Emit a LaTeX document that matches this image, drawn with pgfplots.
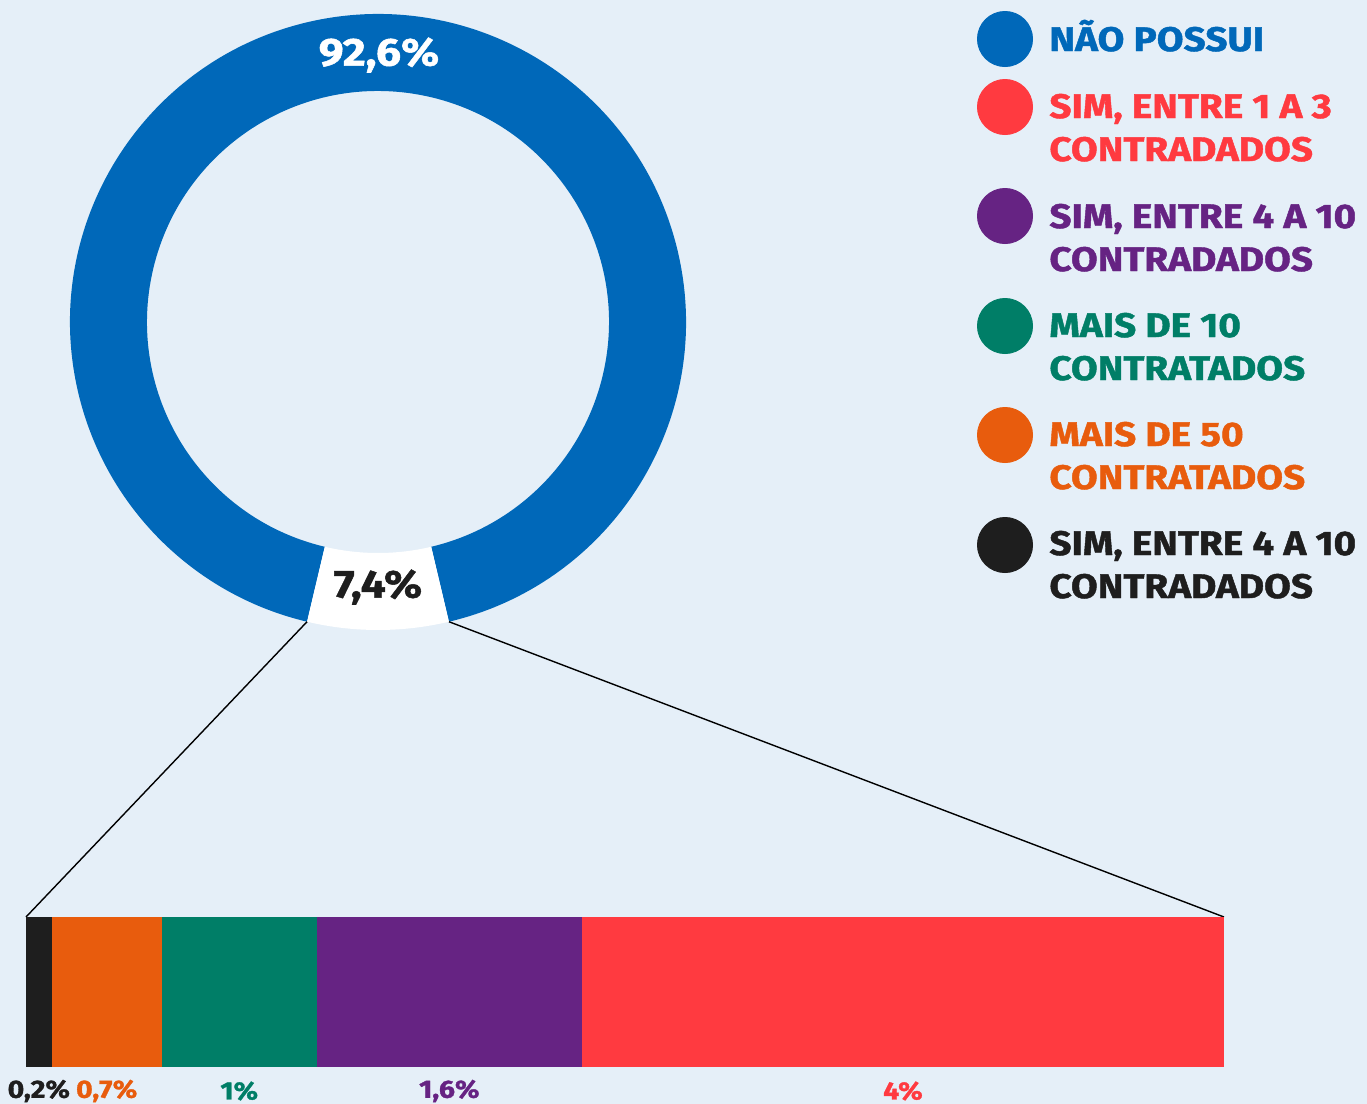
\documentclass[border=0pt]{standalone}
\usepackage{fontspec}
\setmainfont{Fira Sans}[BoldFeatures={FakeBold=1.3, FakeStretch=1.14}]
\usepackage{pgfplots}
\pgfplotsset{compat=1.18}
\definecolor{bgc}{HTML}{E5EFF8}
\definecolor{cblue}{HTML}{0068B9}
\definecolor{cred}{HTML}{FF3A40}
\definecolor{cpurple}{HTML}{662383}
\definecolor{cgreen}{HTML}{007E67}
\definecolor{corange}{HTML}{E85C0D}
\definecolor{cblack}{HTML}{1E1E1E}
\newcommand\legfont{\bfseries\fontsize{17}{21}\selectfont}
\newcommand\lblfont{\bfseries\fontsize{12.5}{14}\selectfont}
\newcommand\donutfont{\bfseries\fontsize{19.5}{22}\selectfont}
% donut data (percent)
\def\pNao{92.6}
\def\pSim{7.4}
\pgfmathsetmacro\halfang{\pSim*3.6/2}
\pgfmathsetmacro\aS{270-\halfang}
\pgfmathsetmacro\aE{270+\halfang}
\pgfmathsetmacro\aSS{\aS+360}
\begin{document}
\begin{tikzpicture}
\begin{axis}[x=0.5pt, y=0.5pt, xmin=0, xmax=1367, ymin=0, ymax=1104,
  y dir=reverse, hide axis, clip=false]
\fill[bgc] (rel axis cs:0,0) rectangle (rel axis cs:1,1);
% blue ring part
\fill[cblue] ([shift={(\aE:154pt)}]axis cs:378,322) arc[start angle=\aE, end angle=\aSS, radius=154pt]
  -- ([shift={(\aSS:115.5pt)}]axis cs:378,322) arc[start angle=\aSS, end angle=\aE, radius=115.5pt] -- cycle;
% white slice
\fill[white] ([shift={(\aS:154pt)}]axis cs:378,322) arc[start angle=\aS, end angle=\aE, radius=154pt]
  -- ([shift={(\aE:115.5pt)}]axis cs:378,322) arc[start angle=\aE, end angle=\aS, radius=115.5pt] -- cycle;
\node[text=white, font=\donutfont] at (axis cs:379,55) {92,6\%};
\node[text=cblack, font=\donutfont] at (axis cs:378,587) {7,4\%};
% connector lines
\draw[black, line width=0.7pt] ([shift={(\aS:154pt)}]axis cs:378,322) -- (axis cs:26,917);
\draw[black, line width=0.7pt] ([shift={(\aE:154pt)}]axis cs:378,322) -- (axis cs:1224,917);
% legend
\addplot[cblue, only marks, mark=*, mark size=13.8pt] coordinates {(1005,39)};
\addplot[cred, only marks, mark=*, mark size=13.8pt] coordinates {(1005,107)};
\addplot[cpurple, only marks, mark=*, mark size=13.8pt] coordinates {(1005,216)};
\addplot[cgreen, only marks, mark=*, mark size=13.8pt] coordinates {(1005,326)};
\addplot[corange, only marks, mark=*, mark size=13.8pt] coordinates {(1005,435)};
\addplot[cblack, only marks, mark=*, mark size=13.8pt] coordinates {(1005,545)};
\node[anchor=base west, text=cblue, font=\legfont, inner sep=0pt] at (axis cs:1049,51) {NÃO POSSUI};
\node[anchor=base west, text=cred, font=\legfont, inner sep=0pt] at (axis cs:1049,118) {SIM, ENTRE 1 A 3};
\node[anchor=base west, text=cred, font=\legfont, inner sep=0pt] at (axis cs:1049,161) {CONTRADADOS};
\node[anchor=base west, text=cpurple, font=\legfont, inner sep=0pt] at (axis cs:1049,228) {SIM, ENTRE 4 A 10};
\node[anchor=base west, text=cpurple, font=\legfont, inner sep=0pt] at (axis cs:1049,271) {CONTRADADOS};
\node[anchor=base west, text=cgreen, font=\legfont, inner sep=0pt] at (axis cs:1049,337) {MAIS DE 10};
\node[anchor=base west, text=cgreen, font=\legfont, inner sep=0pt] at (axis cs:1049,380) {CONTRATADOS};
\node[anchor=base west, text=corange, font=\legfont, inner sep=0pt] at (axis cs:1049,446) {MAIS DE 50};
\node[anchor=base west, text=corange, font=\legfont, inner sep=0pt] at (axis cs:1049,489) {CONTRATADOS};
\node[anchor=base west, text=cblack, font=\legfont, inner sep=0pt] at (axis cs:1049,555) {SIM, ENTRE 4 A 10};
\node[anchor=base west, text=cblack, font=\legfont, inner sep=0pt] at (axis cs:1049,598) {CONTRADADOS};
\end{axis}
\begin{axis}[at={(13pt,18.5pt)}, anchor=south west, width=599pt, height=75pt,
  scale only axis, hide axis, clip=false, xmin=0, xmax=7.5, ymin=-0.5, ymax=0.5,
  xbar stacked, bar width=1, bar shift=0pt]
\addplot[draw=none, fill=cblack] coordinates {(0.16,0)};
\addplot[draw=none, fill=corange] coordinates {(0.69,0)};
\addplot[draw=none, fill=cgreen] coordinates {(0.97,0)};
\addplot[draw=none, fill=cpurple] coordinates {(1.66,0)};
\addplot[draw=none, fill=cred] coordinates {(4.02,0)};
\node[text=cblack, font=\lblfont] at (axis cs:0.08,-0.5) [yshift=-12pt] {0,2\%};
\node[text=corange, font=\lblfont] at (axis cs:0.505,-0.5) [yshift=-12pt] {0,7\%};
\node[text=cgreen, font=\lblfont] at (axis cs:1.335,-0.5) [yshift=-12pt] {1\%};
\node[text=cpurple, font=\lblfont] at (axis cs:2.65,-0.5) [yshift=-12pt] {1,6\%};
\node[text=cred, font=\lblfont] at (axis cs:5.49,-0.5) [yshift=-12pt] {4\%};
\end{axis}
\pgfresetboundingbox
\useasboundingbox (0,0) rectangle (683.5pt,552pt);
\end{tikzpicture}
\end{document}
